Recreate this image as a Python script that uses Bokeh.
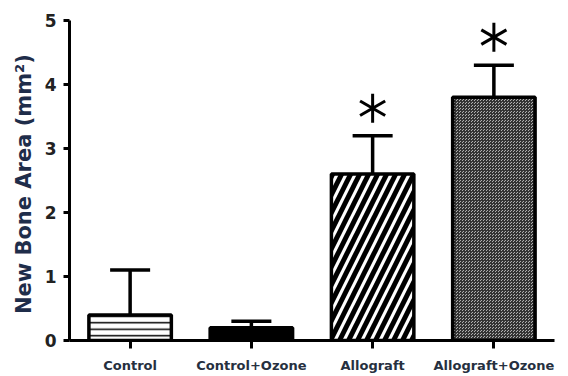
from bokeh.plotting import figure
from bokeh.models import Range1d, FixedTicker
from bokeh.embed import file_html
from bokeh.resources import INLINE

groups = ["Control", "Control+Ozone", "Allograft", "Allograft+Ozone"]
means = [0.4, 0.2, 2.6, 3.8]
upper = [1.1, 0.3, 3.2, 4.3]
star_groups = [2, 3]
star_y = [3.63, 4.74]

xs = [i + 0.5 for i in range(len(groups))]
bar_w = 0.68
cap_w = 0.33

p = figure(width=568, height=376, output_backend="svg", toolbar_location=None,
           x_range=Range1d(0, 4), y_range=Range1d(0, 5),
           min_border_left=69, min_border_right=14, min_border_top=20, min_border_bottom=36)
p.outline_line_color = None
p.grid.visible = False
p.background_fill_color = "white"

# error bars (stem + cap)
p.segment(x0=xs, y0=means, x1=xs, y1=upper, line_color="black", line_width=3.5)
p.segment(x0=[x - cap_w / 2 for x in xs], y0=upper, x1=[x + cap_w / 2 for x in xs], y1=upper,
          line_color="black", line_width=3.5)

# bars with distinct fills
styles = [
    dict(fill_color="white", hatch_pattern="horizontal_line", hatch_scale=6.5, hatch_weight=1.5, hatch_color="black"),
    dict(fill_color="black"),
    dict(fill_color="white", hatch_pattern="right_diagonal_line", hatch_scale=18, hatch_weight=5, hatch_color="black"),
    dict(fill_color="#b0b0b0", hatch_pattern="criss_cross", hatch_scale=3, hatch_weight=1, hatch_color="#333333"),
]
for i, st in enumerate(styles):
    p.vbar(x=[xs[i]], top=[means[i]], bottom=0, width=bar_w, line_color="black", line_width=3.5, **st)

# significance asterisks (six-armed)
sx = [xs[g] for g in star_groups]
for ang in [90, 30, -30]:
    p.scatter(x=sx, y=star_y, marker="dash", size=29, angle=ang, angle_units="deg",
              line_color="black", line_width=3)

# axes
p.yaxis.ticker = FixedTicker(ticks=[0, 1, 2, 3, 4, 5])
p.yaxis.minor_tick_line_color = None
p.yaxis.major_tick_out = 6
p.yaxis.major_tick_in = 0
p.yaxis.major_tick_line_width = 3
p.yaxis.axis_line_width = 3
p.yaxis.major_label_text_font = "DejaVu Sans"
p.yaxis.major_label_text_font_style = "bold"
p.yaxis.major_label_text_font_size = "17px"
p.yaxis.major_label_text_color = "#222222"
p.yaxis.major_label_standoff = 7
p.yaxis.axis_label = "New Bone  Area (mm²)"
p.yaxis.axis_label_text_font = "DejaVu Sans"
p.yaxis.axis_label_text_font_style = "bold"
p.yaxis.axis_label_text_font_size = "21px"
p.yaxis.axis_label_text_color = "#1f2d4a"
p.yaxis.axis_label_standoff = 6

p.xaxis.ticker = FixedTicker(ticks=xs)
p.xaxis.major_label_overrides = {x: g for x, g in zip(xs, groups)}
p.xaxis.minor_tick_line_color = None
p.xaxis.major_tick_out = 8
p.xaxis.major_tick_in = 0
p.xaxis.major_tick_line_width = 3
p.xaxis.axis_line_width = 3
p.xaxis.major_label_text_font = "DejaVu Sans"
p.xaxis.major_label_text_font_style = "bold"
p.xaxis.major_label_text_font_size = "13px"
p.xaxis.major_label_text_color = "#26303f"
p.xaxis.major_label_standoff = 9

open("out.html", "w").write(file_html(p, INLINE))
